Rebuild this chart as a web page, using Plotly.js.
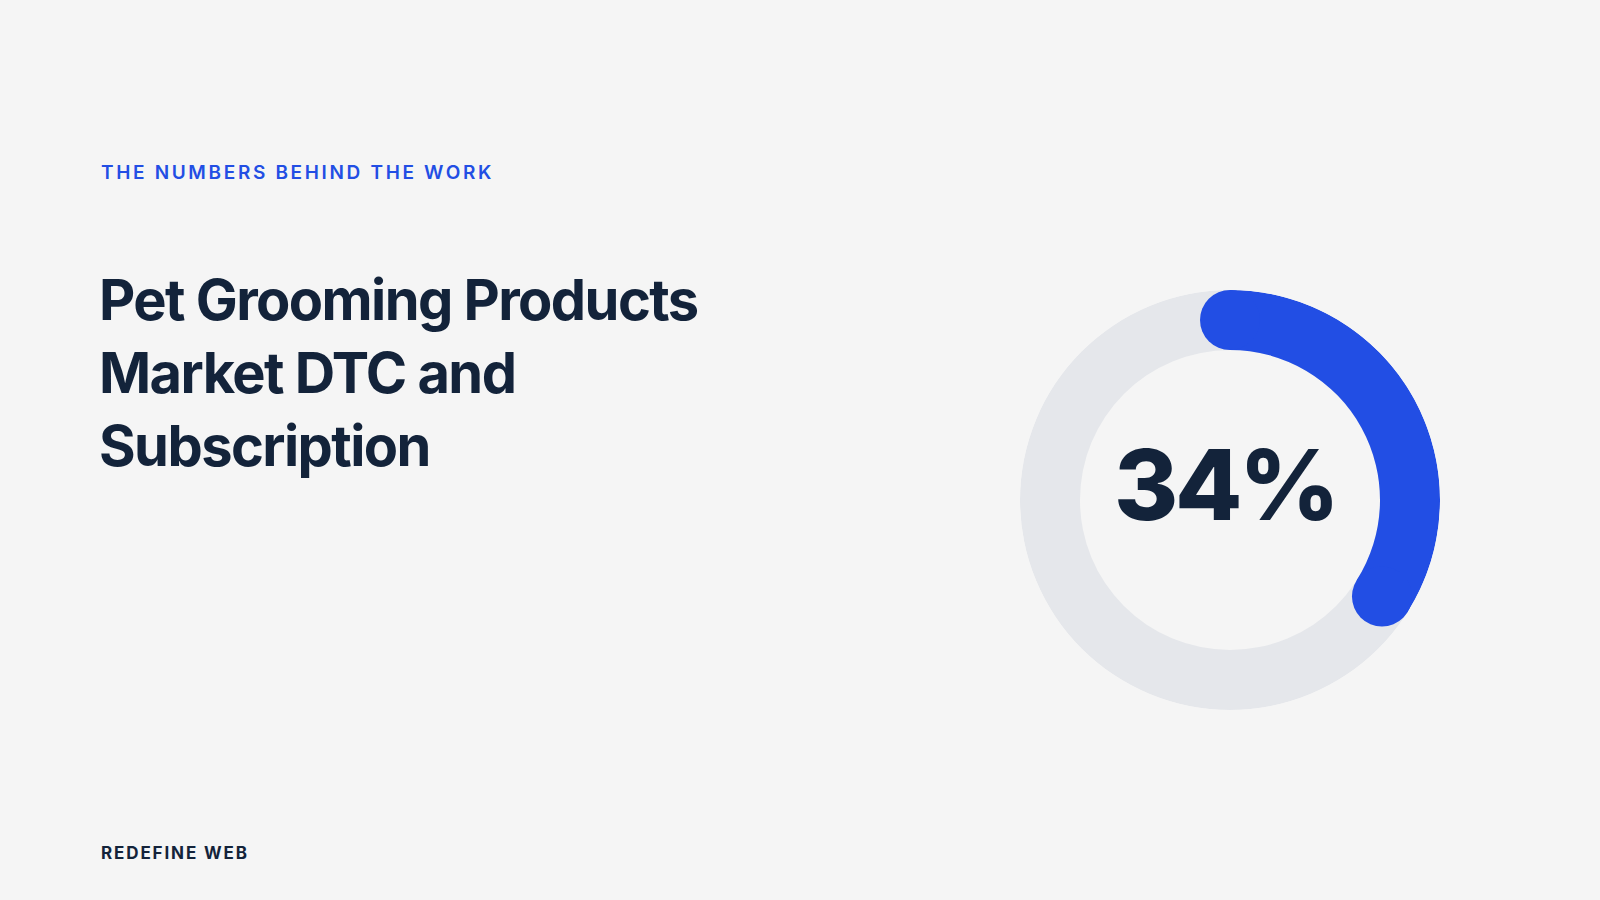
<!DOCTYPE html>
<html>
<head>
<meta charset="utf-8">
<script src="https://cdn.plot.ly/plotly-3.0.1.min.js"></script>
<style>
  html, body { margin: 0; padding: 0; background: #f5f5f5; }
  #chart { width: 1600px; height: 900px; }
</style>
</head>
<body>
<div id="chart"></div>
<script>
// ---- data ----
const eyebrow = "THE NUMBERS BEHIND THE WORK";
const titleLines = ["Pet Grooming Products", "Market DTC and", "Subscription"];
const footer = "REDEFINE WEB";
const sharePercent = 34;          // DTC & subscription share (%)
const shareLabel = "34%";

// ---- styles ----
const BG = "#f5f5f5";
const BLUE = "#224ee4";
const TRACK = "#e5e7eb";
const DARK = "#13233a";
const RING_INNER = 150, RING_OUTER = 210;

const sweep = sharePercent * 3.6;
const ringMid = (RING_INNER + RING_OUTER) / 2;
const thickness = RING_OUTER - RING_INNER;

const traces = [
  { type: "barpolar", r: [thickness], base: [RING_INNER], theta: [180], width: [360],
    marker: { color: TRACK, line: { width: 0 } }, hoverinfo: "skip", showlegend: false },
  { type: "barpolar", r: [thickness], base: [RING_INNER], theta: [sweep / 2], width: [sweep],
    marker: { color: BLUE, line: { width: 0 } }, hoverinfo: "skip", showlegend: false },
  { type: "scatterpolar", mode: "markers", r: [ringMid, ringMid], theta: [0, sweep],
    marker: { color: BLUE, size: thickness, line: { width: 0 } }, hoverinfo: "skip", showlegend: false, cliponaxis: false }
];

const layout = {
  width: 1600, height: 900,
  margin: { l: 0, r: 0, t: 0, b: 0 },
  paper_bgcolor: BG, plot_bgcolor: BG,
  showlegend: false,
  polar: {
    domain: { x: [1020 / 1600, 1440 / 1600], y: [1 - 710 / 900, 1 - 290 / 900] },
    bgcolor: "rgba(0,0,0,0)",
    bargap: 0,
    radialaxis: { range: [0, RING_OUTER], visible: false, showgrid: false },
    angularaxis: { visible: false, rotation: 90, direction: "clockwise", showgrid: false }
  },
  annotations: [
    { text: eyebrow, xref: "paper", yref: "paper", x: 99 / 1600, y: 1 - 173 / 900,
      xanchor: "left", yanchor: "middle", align: "left", showarrow: false,
      font: { family: "Inter", size: 19, weight: 600, color: BLUE } },
    { text: titleLines.join("<br>"), xref: "paper", yref: "paper", x: 97 / 1600, y: 1 - 264 / 900,
      xanchor: "left", yanchor: "top", align: "left", showarrow: false,
      font: { family: "Inter", size: 56, weight: 700, color: DARK } },
    { text: footer, xref: "paper", yref: "paper", x: 99 / 1600, y: 1 - 853 / 900,
      xanchor: "left", yanchor: "middle", align: "left", showarrow: false,
      font: { family: "Inter", size: 17, weight: 700, color: DARK } },
    { text: shareLabel, xref: "paper", yref: "paper", x: 1230 / 1600, y: 1 - 484 / 900,
      xanchor: "center", yanchor: "middle", align: "left", showarrow: false,
      font: { family: "Inter", size: 98, weight: 800, color: DARK } }
  ]
};

const spacing = ["0.14em", "-0.028em", "0.11em", "-0.035em"];

Plotly.newPlot("chart", traces, layout, { staticPlot: true, displayModeBar: false }).then(function (gd) {
  const groups = gd.querySelectorAll("g.annotation");
  groups.forEach(function (g) {
    const idx = +g.getAttribute("data-index");
    const t = g.querySelector("text.annotation-text");
    if (t && spacing[idx]) t.style.letterSpacing = spacing[idx];
  });
});
</script>
</body>
</html>
